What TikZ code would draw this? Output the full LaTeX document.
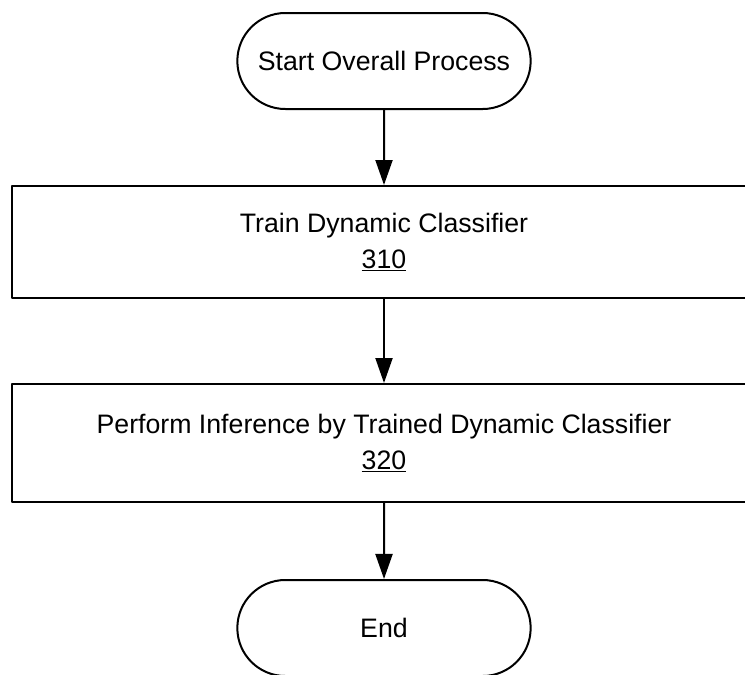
\documentclass[tikz,border=0pt]{standalone}
\usepackage{fontspec}
\setmainfont{Liberation Sans}
\usetikzlibrary{arrows.meta,shapes.misc}

\begin{document}
\begin{tikzpicture}[x=1pt, y=-1pt, line join=round, >={Triangle[length=25pt,width=17pt]}, line width=2pt,
	term/.style={draw, rounded rectangle, minimum width=300pt, minimum height=96pt, font=\fontsize{26.7}{36}\selectfont},
	stepbox/.style={draw, rectangle, minimum width=744pt, align=center, font=\fontsize{26.7}{36}\selectfont}]
			\clip (0,0) rectangle (745,675);
			\node[term] (start) at (384,61) {Start Overall Process};
			\node[stepbox, minimum height=112pt] (train) at (384,242) {Train Dynamic Classifier\\\underline{310}};
			\node[stepbox, minimum height=118pt] (infer) at (384,443) {Perform Inference by Trained Dynamic Classifier\\\underline{320}};
			\node[term] (end) at (384,628) {End};
			\draw[->] (start) -- (train);
			\draw[->] (train) -- (infer);
			\draw[->] (infer) -- (end);
	\end{tikzpicture}
\end{document}
